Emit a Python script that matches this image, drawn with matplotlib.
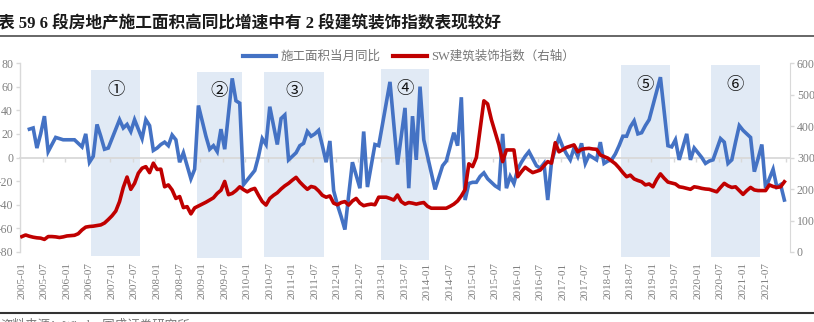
import numpy as np
import matplotlib
matplotlib.use("Agg")
import matplotlib.pyplot as plt
from matplotlib.patches import Rectangle
from matplotlib.lines import Line2D

plt.rcParams['font.family'] = ['Liberation Serif', 'Noto Sans CJK SC', 'DejaVu Sans']

nan = float('nan')
months = [f"{2005 + k // 12}-{k % 12 + 1:02d}" for k in range(204)]

blue = [
    nan, nan, 24, 25, 8, 20, 35, 5, 11, 17,
    16, 15, 15, 15, 15, 12, 9, 20, -4, 1,
    28, 18, 7, 8, 16, 24, 32, 25, 28, 22,
    32, 24, 16, 32, 27, 6, 8, 11, 13, 10,
    19, 15, -4, 4, -7, -18, -10, 44, 31, 18,
    7, 10, 5, 24, 7, 37, 67, 48, 46, -23,
    -19, -15, -11, 1, 16, 11, 43, 27, 11, 33,
    36, -2, 1, 4, 10, 12, 22, 18, 20, 23,
    10, -4, 14, -28, -40, -50, -61, -32, -4, -15,
    -26, 22, -25, -7, 11, 10, 28, 46, 64, 29,
    -6, 18, 42, -26, 35, -2, 60, 15, 1, -13,
    -27, -17, -7, -3, 9, 21, 10, 51, -36, -22,
    -21, -21, -16, -13, -18, -21, -24, -26, 20, -26,
    -16, -22, -10, -4, 1, 5, -1, -7, -9, -5,
    -36, -4, 7, 17, 9, 3, -2, 8, 1, 12,
    -5, 2, 0, -2, 13, -5, -3, -2, 3, 10,
    18, 18, 26, 31, 20, 21, 27, 32, 44, 56,
    68, 39, 10, 9, 15, -2, 9, 20, -2, 8,
    4, 0, -5, -3, -2, 7, 16, 13, -5, -2,
    13, 27, 23, 20, 17, -12, -1, 11, -26, -18,
    -10, -25, -23, -36,
]

red = [
    49, 54, 50, 47, 45, 44, 40, 49, 49, 48,
    46, 48, 51, 52, 53, 58, 70, 79, 81, 82,
    84, 86, 92, 103, 115, 130, 160, 205, 238, 199,
    218, 250, 266, 271, 252, 282, 262, 263, 207, 213,
    197, 170, 176, 141, 144, 121, 140, 146, 152, 158,
    165, 172, 186, 196, 224, 182, 186, 195, 207, 198,
    191, 198, 202, 180, 160, 149, 170, 180, 188, 200,
    210, 218, 228, 237, 222, 210, 199, 208, 205, 194,
    180, 174, 178, 155, 150, 157, 160, 149, 162, 170,
    155, 147, 150, 152, 150, 174, 174, 174, 170, 165,
    181, 160, 152, 157, 155, 152, 155, 157, 145, 139,
    139, 139, 139, 139, 145, 152, 162, 178, 198, 280,
    271, 300, 390, 480, 470, 420, 380, 340, 287, 324,
    324, 324, 239, 255, 269, 260, 252, 256, 260, 274,
    287, 282, 347, 318, 325, 332, 336, 340, 318, 326,
    328, 329, 327, 326, 308, 303, 298, 289, 280, 267,
    252, 239, 244, 232, 227, 223, 213, 216, 207, 230,
    248, 234, 222, 219, 216, 207, 205, 202, 199, 207,
    205, 202, 200, 199, 195, 191, 205, 218, 210, 205,
    207, 195, 183, 195, 205, 197, 195, 195, 195, 213,
    208, 205, 207, 223,
]

tick_labels = months[::6]
period_start = ["2006-07", "2008-11", "2010-05", "2012-12", "2018-04", "2020-04"]
period_end = ["2007-08", "2009-11", "2011-09", "2014-01", "2019-05", "2021-05"]
period_names = ["①", "②", "③", "④", "⑤", "⑥"]
period_top = [74, 72.5, 72.5, 74.5, 78, 78]
period_bottom = [-83.5, -85, -84, -87, -84, -84]

series_blue = "施工面积当月同比"
series_red = "SW建筑装饰指数（右轴）"
title = "表 59 6 段房地产施工面积高同比增速中有 2 段建筑装饰指数表现较好"
source = "资料来源：Wind，国盛证券研究所"

C_BLUE = "#4472C4"
C_RED = "#C00000"
C_SPAN = "#e1eaf5"
C_AX = "#d9d9d9"
C_TXT = "#808080"

W, H = 814, 322
fig = plt.figure(figsize=(W / 100, H / 100), dpi=100)
ax = fig.add_axes([20 / W, (H - 252) / H, 770 / W, 189 / H])
x = np.arange(len(months))

ax.set_xlim(-0.5, 204.5)
ax.set_ylim(-80, 80)

for s, e, nm, t, b in zip(period_start, period_end, period_names, period_top, period_bottom):
    i0 = months.index(s) + 0.5
    i1 = months.index(e) + 0.5
    ax.add_patch(Rectangle((i0, b), i1 - i0, t - b, facecolor=C_SPAN, edgecolor='none',
                           clip_on=False, zorder=0))
    ax.text((i0 + i1) / 2, t - 16.5, nm, ha='center', va='center', fontsize=12.5,
            color='#111111', family=['Noto Sans CJK SC', 'DejaVu Sans'], zorder=1)

ax.plot(x, blue, color=C_BLUE, lw=2.6, zorder=3, solid_joinstyle='miter')

ax.set_xticks(x[::6][:len(tick_labels)])
ax.set_xticklabels(tick_labels, rotation=90)
ax.tick_params(axis='x', length=0, pad=7.5, labelsize=8, labelcolor=C_TXT)
ax.set_yticks(np.arange(-80, 81, 20))
ax.tick_params(axis='y', length=3, color=C_AX, width=1, pad=2, labelsize=8.5, labelcolor=C_TXT)
for sp in ['top', 'bottom', 'right']:
    ax.spines[sp].set_visible(False)
ax.spines['left'].set_color(C_AX)
ax.spines['left'].set_linewidth(1)

sec = ax.secondary_xaxis(0.49999)
sec.set_xticks(np.arange(5.5, 205, 6))
sec.set_xticklabels([])
sec.tick_params(axis='x', direction='out', length=3, color=C_AX, width=1)
for sp in sec.spines.values():
    sp.set_color(C_AX)
    sp.set_linewidth(1.3)

ax2 = ax.twinx()
ax2.set_ylim(0, 600)
ax2.plot(x, red, color=C_RED, lw=2.6, zorder=3)
ax2.set_yticks(np.arange(0, 601, 100))
ax2.tick_params(axis='y', length=3, color=C_AX, width=1, pad=2, labelsize=8.5, labelcolor=C_TXT)
for sp in ['top', 'bottom', 'left']:
    ax2.spines[sp].set_visible(False)
ax2.spines['right'].set_color(C_AX)

handles = [Line2D([], [], color=C_BLUE, lw=3), Line2D([], [], color=C_RED, lw=3)]
fig.legend(handles, [series_blue, series_red], loc='center',
           bbox_to_anchor=(409 / W, (H - 57) / H), ncol=2, frameon=False,
           fontsize=9, handlelength=2.7, handletextpad=0.35, columnspacing=1.0,
           labelcolor='#767676')

fig.text(-0.003, (H - 24) / H, title, fontsize=12, fontweight='bold', color='#1a1a1a',
         ha='left', va='center')
fig.add_artist(Line2D([0, 1], [(H - 36) / H] * 2, transform=fig.transFigure,
                      color='#4d4d4d', lw=1.2))
fig.add_artist(Line2D([0, 1], [(H - 313) / H] * 2, transform=fig.transFigure,
                      color='#333333', lw=1.5))
fig.text(0.0, (H - 319.5) / H, source, fontsize=9, color='#777777', ha='left', va='top')

fig.savefig("out.png", dpi=100)
